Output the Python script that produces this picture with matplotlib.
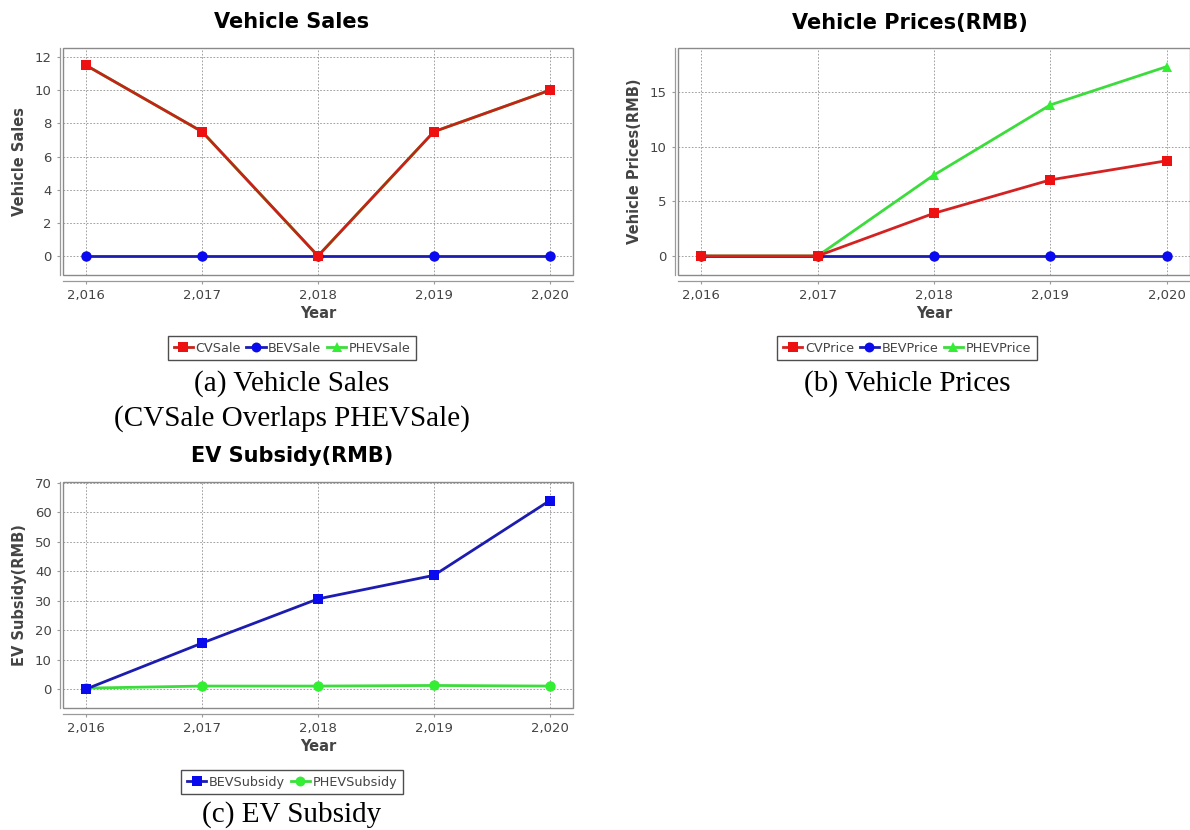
import numpy as np
import matplotlib
matplotlib.use("Agg")
import matplotlib.pyplot as plt
from matplotlib.patches import Rectangle
from matplotlib.ticker import FuncFormatter

years = [2016, 2017, 2018, 2019, 2020]

# (a) vehicle sales
cv_sale = [11.5, 7.5, 0.0, 7.5, 10.0]
bev_sale = [0.0, 0.0, 0.0, 0.0, 0.0]
phev_sale = [11.5, 7.5, 0.0, 7.5, 10.0]

# (b) vehicle prices
cv_price = [0.0, 0.0, 3.9, 6.95, 8.7]
bev_price = [0.0, 0.0, 0.0, 0.0, 0.0]
phev_price = [0.0, 0.0, 7.4, 13.8, 17.3]

# (c) EV subsidy
bev_subsidy = [0.0, 15.6, 30.6, 38.6, 64.0]
phev_subsidy = [0.3, 1.0, 1.0, 1.2, 1.0]

RED_L, RED_M = "#d42222", "#ee1111"
BLUE_L, BLUE_M = "#1c1cb0", "#0a0aee"
GREEN_L, GREEN_M = "#3ddc3d", "#33ee33"

W, H = 1190, 830
fig = plt.figure(figsize=(W / 100, H / 100), dpi=100)
fig.patch.set_facecolor("white")

fmt = FuncFormatter(lambda v, p: f"{int(round(v)):,}")


def make_axes(left, top, right, bottom):
    return fig.add_axes([left / W, 1 - bottom / H, (right - left) / W, (bottom - top) / H])


def style(ax, ylim, yticks, ylabel):
    ax.set_xlim(2015.8, 2020.2)
    ax.set_ylim(*ylim)
    ax.set_xticks(years)
    ax.xaxis.set_major_formatter(fmt)
    ax.set_yticks(yticks)
    ax.grid(True, color="#909090", linestyle=(0, (2, 2)), linewidth=0.6)
    ax.set_axisbelow(True)
    for s in ax.spines.values():
        s.set_color("#9a9a9a")
        s.set_linewidth(0.9)
    ax.spines["top"].set_visible(False)
    ax.spines["right"].set_visible(False)
    ax.spines["bottom"].set_position(("outward", 4))
    ax.spines["left"].set_position(("outward", 2))
    ax.add_patch(Rectangle((0, 0), 1, 1, transform=ax.transAxes, fill=False,
                           edgecolor="#8a8a8a", linewidth=1.0, clip_on=False, zorder=5))
    ax.tick_params(colors="#9a9a9a", labelcolor="#444444", labelsize=9.5,
                   length=2, width=0.8, pad=4)
    ax.set_ylabel(ylabel, fontsize=10.5, fontweight="bold", color="#444444", labelpad=6)
    ax.set_xlabel("Year", fontsize=10.5, fontweight="bold", color="#444444", labelpad=3)


def legend(ax, x, y):
    h, l = ax.get_legend_handles_labels()
    leg = fig.legend(h, l, loc="center", bbox_to_anchor=(x / W, 1 - y / H), ncol=len(l),
                     fontsize=9.2, frameon=True, fancybox=False, edgecolor="#222222",
                     handlelength=1.5, handletextpad=0.2, columnspacing=0.45,
                     borderpad=0.45, markerscale=0.95)
    leg.get_frame().set_linewidth(1.0)
    for t in leg.get_texts():
        t.set_color("#444444")


mk = dict(markersize=7.5, linewidth=2.0, markeredgewidth=0)
title_kw = dict(fontsize=15, fontweight="bold", ha="center", va="center")
cap_kw = dict(family="Liberation Serif", fontsize=21, ha="center", va="center")

# (a)
ax1 = make_axes(63, 48, 573, 275)
ax1.plot(years, cv_sale, color="#c42418", marker="s", markerfacecolor=RED_M, label="CVSale", zorder=4, **mk)
ax1.plot(years, bev_sale, color=BLUE_L, marker="o", markerfacecolor=BLUE_M, label="BEVSale", zorder=3, **mk)
ax1.plot(years, phev_sale, color=GREEN_L, marker="^", markerfacecolor=GREEN_M, label="PHEVSale", zorder=2, **mk)
style(ax1, (-1.15, 12.55), range(0, 13, 2), "Vehicle Sales")
fig.text(292 / W, 1 - 22 / H, "Vehicle Sales", **title_kw)
legend(ax1, 292, 348)
fig.text(292 / W, 1 - 384 / H, "(a) Vehicle Sales", **cap_kw)
fig.text(292 / W, 1 - 419 / H, "(CVSale Overlaps PHEVSale)", **cap_kw)

# (b)
ax2 = make_axes(678, 48, 1190, 275)
ax2.plot(years, cv_price, color=RED_L, marker="s", markerfacecolor=RED_M, label="CVPrice", zorder=4, **mk)
ax2.plot(years, bev_price, color=BLUE_L, marker="o", markerfacecolor=BLUE_M, label="BEVPrice", zorder=3, **mk)
ax2.plot(years, phev_price, color=GREEN_L, marker="^", markerfacecolor=GREEN_M, label="PHEVPrice", zorder=2, **mk)
style(ax2, (-1.74, 19.0), [0, 5, 10, 15], "Vehicle Prices(RMB)")
fig.text(910 / W, 1 - 23 / H, "Vehicle Prices(RMB)", **title_kw)
legend(ax2, 907, 348)
fig.text(907 / W, 1 - 384 / H, "(b) Vehicle Prices", **cap_kw)

# (c)
ax3 = make_axes(63, 482, 573, 708)
ax3.plot(years, bev_subsidy, color=BLUE_L, marker="s", markerfacecolor=BLUE_M, label="BEVSubsidy", zorder=4, **mk)
ax3.plot(years, phev_subsidy, color=GREEN_L, marker="o", markerfacecolor=GREEN_M, label="PHEVSubsidy", zorder=3, **mk)
style(ax3, (-6.45, 70.3), range(0, 71, 10), "EV Subsidy(RMB)")
fig.text(292 / W, 1 - 456 / H, "EV Subsidy(RMB)", **title_kw)
legend(ax3, 292, 782)
fig.text(292 / W, 1 - 815 / H, "(c) EV Subsidy", **cap_kw)

fig.savefig("out.png", dpi=100, facecolor="white")
